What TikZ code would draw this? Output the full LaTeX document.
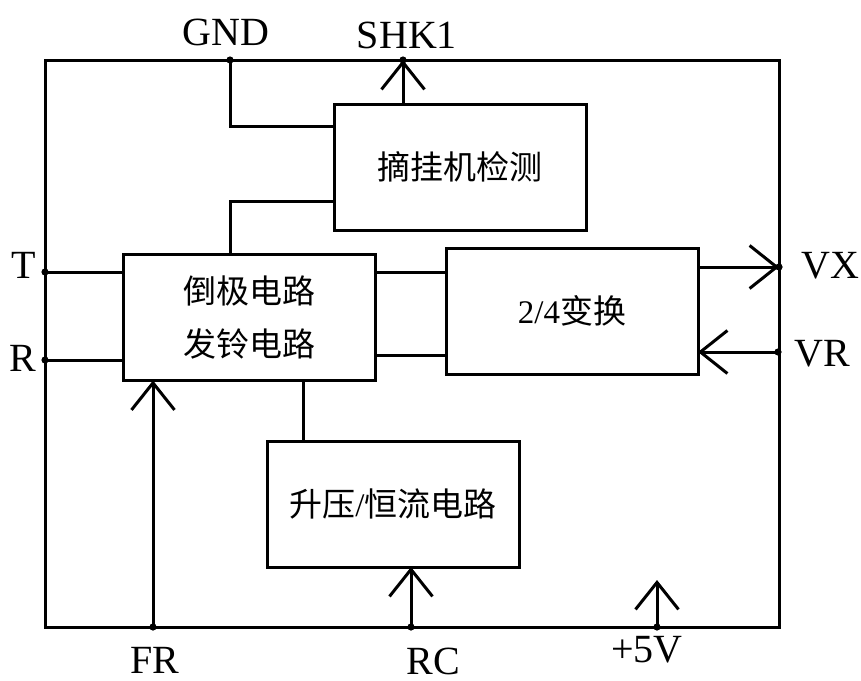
\documentclass[tikz,border=0pt]{standalone}
\usepackage{fontspec}
\setmainfont{Liberation Serif}
\newfontfamily\cjk{Noto Sans CJK SC}
\usetikzlibrary{arrows.meta}

\begin{document}
\begin{tikzpicture}[
  x=0.5pt, y=-0.5pt,
  line width=1.5pt,
  blk/.style={draw, minimum width=126pt, minimum height=63pt, inner sep=0pt,
              outer sep=0pt, align=center, font=\cjk\fontsize{16.5}{26.5}\selectfont},
  pin/.style={-{Straight Barb[length=13.5pt, width=21.5pt]}},
  lbl/.style={font=\fontsize{20}{24}\selectfont, inner sep=0pt}
]
\useasboundingbox (0,0) rectangle (861,680);

% ---------- chip outline ----------
\draw (45,60) rectangle (779,627);

% ---------- pins on the outline ----------
\coordinate (gnd) at (230,60);
\coordinate (shk) at (403,60);
\coordinate (t)   at (45,272);
\coordinate (r)   at (45,360);
\coordinate (vx)  at (779,267);
\coordinate (vr)  at (778,352);
\coordinate (fr)  at (153,627);
\coordinate (rc)  at (411,627);
\coordinate (p5)  at (657,627);
\coordinate (p5t) at (657,580);

\node[lbl] (gndl) at (226,32)  {GND};
\node[lbl] (shkl) at (407,35)  {SHK1};
\node[lbl] (tl)   at (24,265)  {T};
\node[lbl] (rl)   at (23,358)  {R};
\node[lbl] (vxl)  at (830,266) {VX};
\node[lbl] (vrl)  at (822,354) {VR};
\node[lbl] (frl)  at (155,660) {FR};
\node[lbl] (rcl)  at (433,661) {RC};
\node[lbl] (p5l)  at (647,650) {+5V};

% ---------- blocks ----------
\node[blk] (hook)  at (460,167)   {摘挂机检测};
\node[blk] (main)  at (249,317.5) {倒极电路\\发铃电路};
\node[blk] (conv)  at (572,311)   {{\rmfamily 2/4}变换};
\node[blk] (boost) at (393,504)   {升压{\rmfamily /}恒流电路};

% ---------- wiring ----------
\draw (gnd) |- ([yshift=-11pt]hook.north west);
\draw ([yshift=14.5pt]hook.south west) -| (main.north -| gnd);
\draw[pin] (hook.north -| shk) -- (shk);

\draw (t) -- (t -| main.west);
\draw (r) -- (r -| main.west);

\coordinate (ml) at ([yshift=12.5pt]main.south east);
\draw (t -| main.east) -- (t -| conv.west);
\draw (ml) -- (ml -| conv.west);

\draw[pin] (vx -| conv.east) -- (vx);
\draw[pin] (vr) -- (vr -| conv.east);

\draw[pin] (fr) -- (fr |- main.south);
\coordinate (bt) at ([xshift=18pt]boost.north west);
\draw (bt |- main.south) -- (bt);
\draw[pin] (rc) -- (rc |- boost.south);
\draw[pin] (p5) -- (p5t);

\foreach \p in {gnd,shk,t,r,vx,vr,fr,rc,p5}
  \fill (\p) circle (1.8pt);

\end{tikzpicture}
\end{document}
